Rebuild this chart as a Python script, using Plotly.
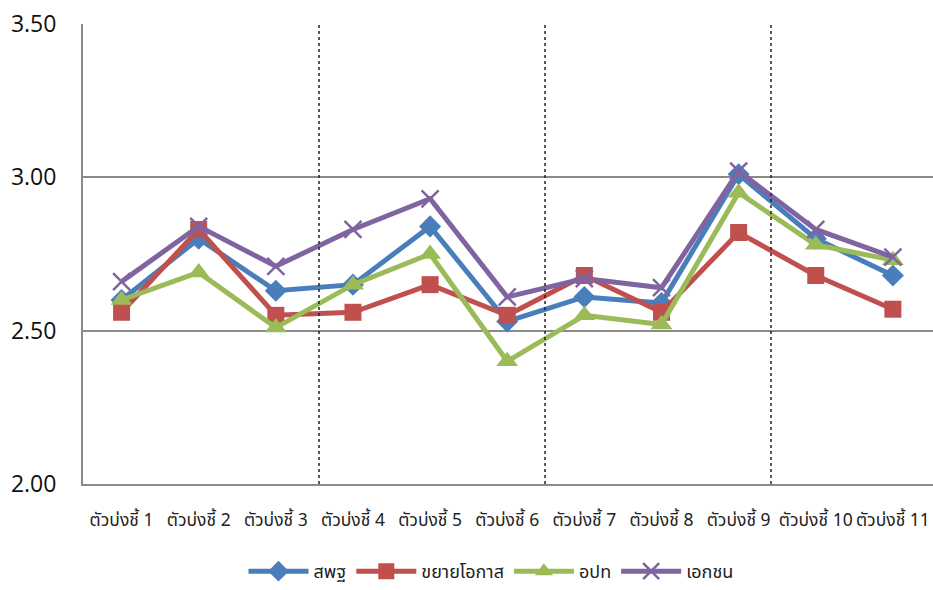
import plotly.graph_objects as go

# Indicator categories
categories = ["ตัวบ่งชี้ 1", "ตัวบ่งชี้ 2", "ตัวบ่งชี้ 3", "ตัวบ่งชี้ 4", "ตัวบ่งชี้ 5",
              "ตัวบ่งชี้ 6", "ตัวบ่งชี้ 7", "ตัวบ่งชี้ 8", "ตัวบ่งชี้ 9", "ตัวบ่งชี้ 10",
              "ตัวบ่งชี้ 11"]

# Mean scores per school affiliation
obec = [2.60, 2.80, 2.63, 2.65, 2.84, 2.53, 2.61, 2.59, 3.01, 2.80, 2.68]
extended = [2.56, 2.83, 2.55, 2.56, 2.65, 2.55, 2.68, 2.56, 2.82, 2.68, 2.57]
local_admin = [2.60, 2.69, 2.51, 2.65, 2.75, 2.40, 2.55, 2.52, 2.95, 2.78, 2.73]
private = [2.66, 2.84, 2.71, 2.83, 2.93, 2.61, 2.67, 2.64, 3.02, 2.83, 2.74]

y_ticks = [2.00, 2.50, 3.00, 3.50]

series = [
    ("สพฐ", obec, "#4A7EBB", dict(symbol="diamond", size=17)),
    ("ขยายโอกาส", extended, "#C0504D", dict(symbol="square", size=17)),
    ("อปท", local_admin, "#9BBB59", dict(symbol="triangle-up", size=19)),
    ("เอกชน", private, "#8064A2", dict(symbol="x-thin-open", size=17,
                                        line=dict(width=2.5, color="#8064A2"))),
]

thai_font = "Tahoma, 'Noto Sans Thai', 'Leelawadee UI', sans-serif"

fig = go.Figure()
for name, vals, color, marker in series:
    fig.add_trace(go.Scatter(
        x=categories, y=vals, name=name, mode="lines+markers",
        line=dict(color=color, width=5),
        marker=dict(color=color, **marker),
    ))

# Dotted separators between indicator groups
for pos in [2.56, 5.49, 8.42]:
    fig.add_shape(type="line", xref="x", yref="paper", x0=pos, x1=pos, y0=0, y1=1,
                  line=dict(color="#222222", width=1.5, dash="dot"), layer="above")

fig.update_layout(
    width=933, height=590,
    margin=dict(l=83, r=0, t=24, b=105),
    plot_bgcolor="white", paper_bgcolor="white",
    showlegend=True,
    legend=dict(orientation="h", x=0.48, xanchor="center", y=-0.19, yanchor="middle",
                font=dict(family=thai_font, size=18, color="#222222"),
                itemwidth=60, traceorder="normal", borderwidth=0,
                bgcolor="rgba(0,0,0,0)"),
    xaxis=dict(
        type="category", range=[-0.5, 10.52],
        showgrid=False, showline=True, linecolor="#8a8a8a", linewidth=2,
        ticks="", tickfont=dict(family=thai_font, size=17.5, color="#222222"),
        ticklabelstandoff=19,
    ),
    yaxis=dict(
        range=[2.0, 3.5], tickvals=y_ticks, tickformat=".2f",
        showgrid=True, gridcolor="#8a8a8a", gridwidth=2,
        showline=True, linecolor="#8a8a8a", linewidth=2, mirror=False,
        zeroline=False, ticks="",
        tickfont=dict(family="'Open Sans', sans-serif", size=23, color="#111111"),
        ticklabelstandoff=20,
    ),
)

fig.write_html("out.html")
